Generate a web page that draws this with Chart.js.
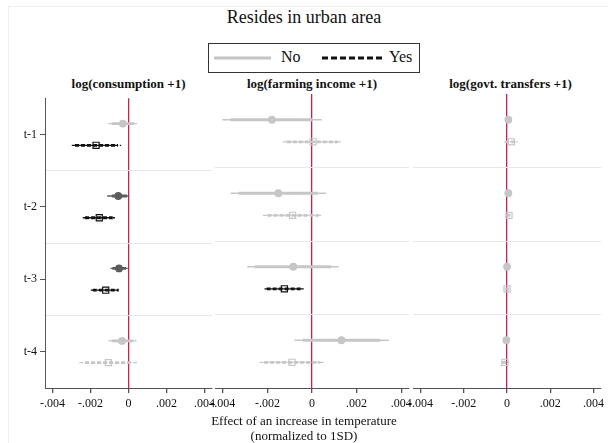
<!DOCTYPE html>
<html>
<head>
<meta charset="utf-8">
<script src="https://cdn.jsdelivr.net/npm/chart.js@4.4.1/dist/chart.umd.min.js"></script>
<style>
  body { margin: 0; background: #fff; font-family: 'Liberation Serif', 'Times New Roman', serif; color: #111; }
  #wrap { position: relative; width: 608px; height: 443px; overflow: hidden; }
  .abs { position: absolute; }
  .ptitle { font-family: 'Liberation Serif', serif; font-weight: bold; font-size: 13px; text-align: center; }
  canvas { position: absolute; }
</style>
</head>
<body>
<div id="wrap">
  <div class="abs" style="left:8px;top:6px;width:640px;height:480px;border-left:1px solid #eeeeee;border-top:1px solid #eeeeee"></div>
  <div class="abs" style="left:0;width:608px;top:7px;text-align:center;font-size:18px">Resides in urban area</div>
  <div class="abs" style="left:208px;top:43px;width:210px;height:28px;border:1px solid #333"></div>
  <svg class="abs" style="left:208px;top:43px" width="212" height="30">
    <line x1="6" y1="15" x2="63" y2="15" stroke="#c4c4c4" stroke-width="3"/>
    <line x1="114" y1="15" x2="174" y2="15" stroke="#111" stroke-width="3" stroke-dasharray="6,3"/>
  </svg>
  <div class="abs" style="left:281px;top:48px;font-size:16px">No</div>
  <div class="abs" style="left:389px;top:48px;font-size:16px">Yes</div>

  <div class="abs ptitle" style="left:45px;width:167px;top:76px">log(consumption +1)</div>
  <div class="abs ptitle" style="left:215px;width:194px;top:76px">log(farming income +1)</div>
  <div class="abs ptitle" style="left:413px;width:195px;top:76px">log(govt. transfers +1)</div>

  <canvas id="c1" style="left:0;top:88px" width="230" height="340"></canvas>
  <canvas id="c2" style="left:200px;top:88px" width="225" height="340"></canvas>
  <canvas id="c3" style="left:398px;top:88px" width="210" height="340"></canvas>

  <div class="abs" style="left:0;width:608px;top:413px;text-align:center;font-size:13px;line-height:15px">Effect of an increase in temperature<br>(normalized to 1SD)</div>
</div>

<script>
// rows are [estimate, lo95, hi95, lo90, hi90] for t-1 .. t-4
const lags = ['t-1', 't-2', 't-3', 't-4'];
const xTicks = [-0.004, -0.002, 0, 0.002, 0.004];

const consumptionNo = [
  [-0.00030, -0.00106, 0.00046, -0.00088, 0.00029],
  [-0.00054, -0.00112, 0.00004, -0.00088, -0.00009],
  [-0.00050, -0.00094, -0.00004, -0.00085, -0.00013],
  [-0.00034, -0.00106, 0.00043, -0.00088, 0.00025]
];
const consumptionYes = [
  [-0.00171, -0.00299, -0.00039, -0.00282, -0.00055],
  [-0.00154, -0.00241, -0.00071, -0.00229, -0.00083],
  [-0.00120, -0.00199, -0.00041, -0.00188, -0.00052],
  [-0.00106, -0.00259, 0.00046, -0.00229, 0.00017]
];
const farmingNo = [
  [-0.00180, -0.00402, 0.00044, -0.00365, 0.00004],
  [-0.00151, -0.00365, 0.00063, -0.00329, 0.00026],
  [-0.00084, -0.00290, 0.00120, -0.00257, 0.00086],
  [0.00132, -0.00078, 0.00344, -0.00041, 0.00306]
];
const farmingYes = [
  [0.00005, -0.00131, 0.00135, -0.00113, 0.00116],
  [-0.00087, -0.00220, 0.00045, -0.00200, 0.00030],
  [-0.00124, -0.00213, -0.00037, -0.00203, -0.00047],
  [-0.00090, -0.00235, 0.00053, -0.00215, 0.00035]
];
const transfersNo = [
  [0.00006, -0.00003, 0.00015, -0.00002, 0.00013],
  [0.00006, -0.00003, 0.00015, -0.00002, 0.00013],
  [0.00000, -0.00008, 0.00008, -0.00006, 0.00006],
  [-0.00003, -0.00011, 0.00005, -0.00009, 0.00004]
];
const transfersYes = [
  [0.00020, -0.00013, 0.00050, -0.00008, 0.00045],
  [0.00009, -0.00005, 0.00022, -0.00003, 0.00020],
  [0.00000, -0.00010, 0.00010, -0.00008, 0.00008],
  [-0.00010, -0.00025, 0.00010, -0.00022, 0.00007]
];

const OFF = 0.15;
const LIGHT = '#c6c6c6', DARK = '#5c5c5c', BLACK = '#111111', RED = '#d01e4a';
const SERIF = "'Liberation Serif', 'Times New Roman', serif";
Chart.defaults.font.family = SERIF;

function colourFor(r, yes) {
  const sig = r[3] > 0 || r[4] < 0;
  if (!sig) return LIGHT;
  return yes ? BLACK : DARK;
}

function fmtTick(v) {
  if (Math.abs(v) < 1e-12) return '0';
  return (v < 0 ? '-' : '') + Math.abs(v).toFixed(3).replace(/^0/, '');
}

function buildDatasets(noRows, yesRows) {
  const pts = [], bars = [];
  [[noRows, -OFF, false], [yesRows, OFF, true]].forEach(([rows, off, yes]) => {
    const cols = rows.map(r => colourFor(r, yes));
    rows.forEach((r, i) => {
      const y = i + 1 + off;
      const common = { showLine: true, pointRadius: 0, borderColor: cols[i], borderCapStyle: 'butt',
                       borderDash: yes ? [4, 2] : [] };
      bars.push(Object.assign({ data: [{x: r[1], y}, {x: r[2], y}], borderWidth: 1.3 }, common));
      bars.push(Object.assign({ data: [{x: r[3], y}, {x: r[4], y}], borderWidth: 2.8 }, common));
    });
    pts.push({
      data: rows.map((r, i) => ({x: r[0], y: i + 1 + off})),
      pointStyle: yes ? 'rect' : 'circle',
      pointRadius: yes ? 4.3 : 3.9,
      pointBackgroundColor: yes ? 'rgba(255,255,255,0)' : cols,
      pointBorderColor: cols,
      pointBorderWidth: yes ? 1.2 : 0,
      showLine: false
    });
  });
  return pts.concat(bars);
}

function makePanel(id, noRows, yesRows, opts) {
  new Chart(document.getElementById(id), {
    type: 'scatter',
    data: { datasets: buildDatasets(noRows, yesRows) },
    options: {
      responsive: false,
      animation: false,
      events: [],
      layout: { autoPadding: false, padding: { top: 6, right: opts.right, left: 0, bottom: 0 } },
      plugins: { legend: { display: false }, tooltip: { enabled: false } },
      scales: {
        x: {
          type: 'linear', min: -opts.lim, max: opts.lim,
          afterBuildTicks: s => { s.ticks = xTicks.map(v => ({value: v})); },
          afterFit: s => { s.height = 40; },
          ticks: { callback: v => fmtTick(v), color: '#111', font: { family: SERIF, size: 12 }, padding: 4, maxRotation: 0, autoSkip: false },
          grid: {
            drawOnChartArea: true, tickLength: 5, tickColor: '#555', lineWidth: 1.3,
            color: c => (c.tick && Math.abs(c.tick.value) < 1e-12) ? RED : 'rgba(0,0,0,0)'
          },
          border: { display: true, color: '#555', width: 1 }
        },
        y: {
          type: 'linear', min: 0.5, max: 4.5, reverse: true,
          afterBuildTicks: s => { s.ticks = [0.5, 1, 1.5, 2, 2.5, 3, 3.5, 4, 4.5].map(v => ({value: v})); },
          afterFit: s => { s.width = opts.yWidth; },
          ticks: {
            display: opts.showY,
            callback: v => Number.isInteger(v) ? lags[v - 1] : '',
            color: '#111', font: { family: SERIF, size: 12 }, padding: 3
          },
          grid: {
            drawTicks: opts.showY, tickLength: 5,
            tickColor: c => (c.tick && Number.isInteger(c.tick.value)) ? '#555' : 'rgba(0,0,0,0)',
            color: c => (c.tick && [1.5, 2.5, 3.5].includes(c.tick.value)) ? '#e4eaea' : 'rgba(0,0,0,0)'
          },
          border: { display: opts.showY, color: '#555', width: 1 }
        }
      }
    }
  });
}

makePanel('c1', consumptionNo, consumptionYes, { lim: 0.0044, right: 18, yWidth: 45, showY: true });
makePanel('c2', farmingNo, farmingYes, { lim: 0.00435, right: 16, yWidth: 15, showY: false });
makePanel('c3', transfersNo, transfersYes, { lim: 0.00435, right: 0, yWidth: 15, showY: false });
</script>
</body>
</html>
